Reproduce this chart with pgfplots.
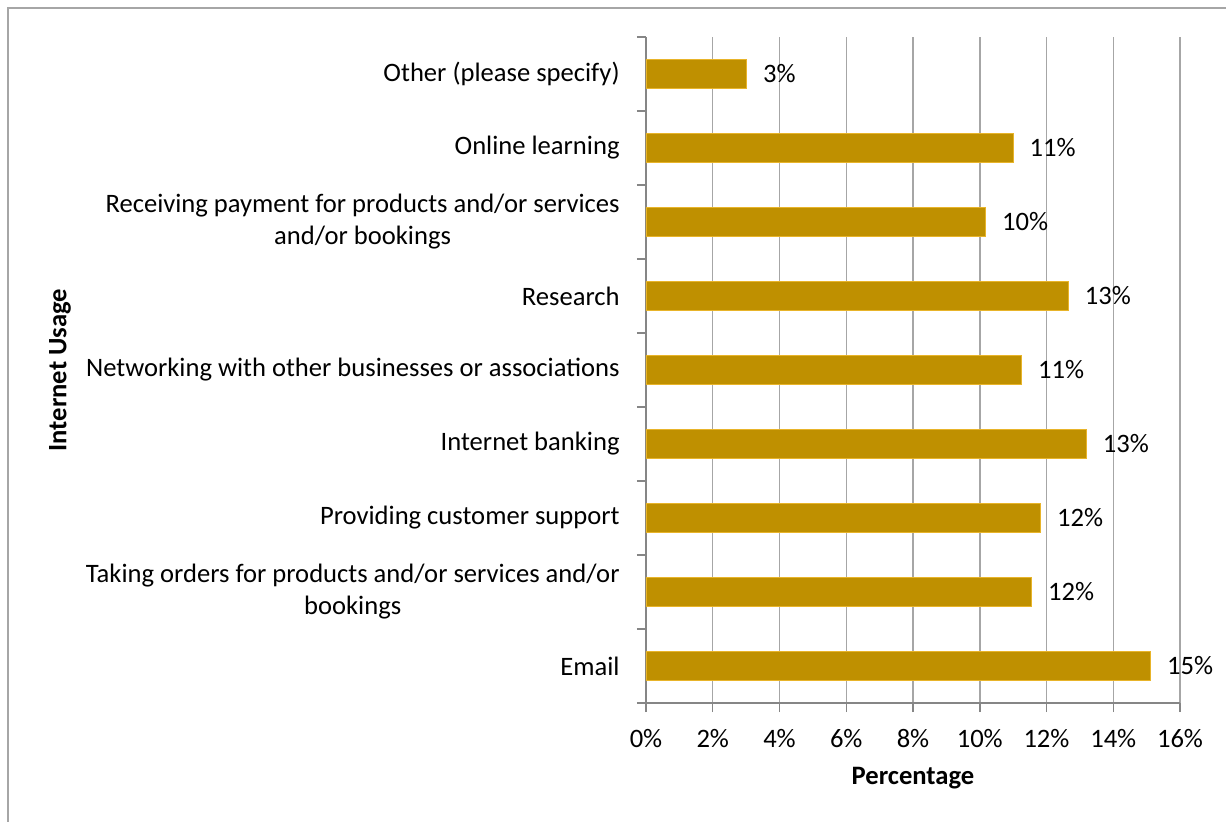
\documentclass[border=0pt]{standalone}
\usepackage{pgfplots}
\pgfplotsset{compat=1.18}
\usepackage{fontspec}
\setmainfont{Carlito}

\definecolor{bargold}{HTML}{BF9000}
\definecolor{baredge}{HTML}{E8B42A}
\definecolor{gridgray}{HTML}{A6A6A6}
\definecolor{axisgray}{HTML}{868686}

\begin{document}
\begin{tikzpicture}
% picture frame (top and left edges show in the reference)
\path[use as bounding box] (0pt,0pt) rectangle (613pt,-411pt);
\draw[gridgray, line width=1pt] (4pt,-411pt) -- (4pt,-4pt) -- (613pt,-4pt);

\begin{axis}[
    at={(323pt,-351.5pt)}, anchor=south west,
    scale only axis, width=267pt, height=333pt,
    xbar, bar width=0.4,
    xmin=0, xmax=16, ymin=-0.5, ymax=8.5,
    clip=false,
    axis lines*=left,
    axis line style={axisgray, line width=0.75pt},
    tick align=outside,
    major tick length=4.5pt, minor tick length=4.5pt,
    tick style={axisgray, line width=0.75pt},
    xtick={0,2,...,16},
    xticklabel={\pgfmathprintnumber{\tick}\%},
    xmajorgrids,
    grid style={gridgray, line width=0.75pt},
    ytick={0,...,8},
    yticklabels={
        Email,
        {Taking orders for products and/or services and/or\\bookings},
        Providing customer support,
        Internet banking,
        Networking with other businesses or associations,
        Research,
        {Receiving payment for products and/or services\\and/or bookings},
        Online learning,
        Other (please specify)},
    major y tick style={draw=none},
    minor ytick={-0.5,0.5,...,8.5},
    /pgf/number format/assume math mode=true,
    tick label style={font=\fontsize{13.3}{16}\selectfont, inner sep=0pt},
    y tick label style={align=center, xshift=-8.5pt},
    x tick label style={yshift=-8.5pt},
    xlabel={Percentage},
    ylabel={Internet Usage},
    label style={font=\fontsize{13.3}{15}\selectfont\bfseries},
    xlabel style={at={(axis description cs:0.5,0)}, anchor=center, yshift=-37.5pt},
    ylabel style={at={(axis description cs:0,0.5)}, anchor=center, yshift=293pt},
    nodes near coords={\pgfmathprintnumber[fixed,precision=0]{\pgfplotspointmeta}\%},
    nodes near coords style={anchor=west, inner sep=0pt, xshift=8pt,
        font=\fontsize{13.3}{15}\selectfont},
]
\addplot[fill=bargold, draw=baredge, line width=0.4pt]
    coordinates {(15.12,0) (11.56,1) (11.83,2) (13.2,3) (11.26,4)
                 (12.66,5) (10.18,6) (11.0,7) (3.02,8)};
\end{axis}
\end{tikzpicture}
\end{document}
